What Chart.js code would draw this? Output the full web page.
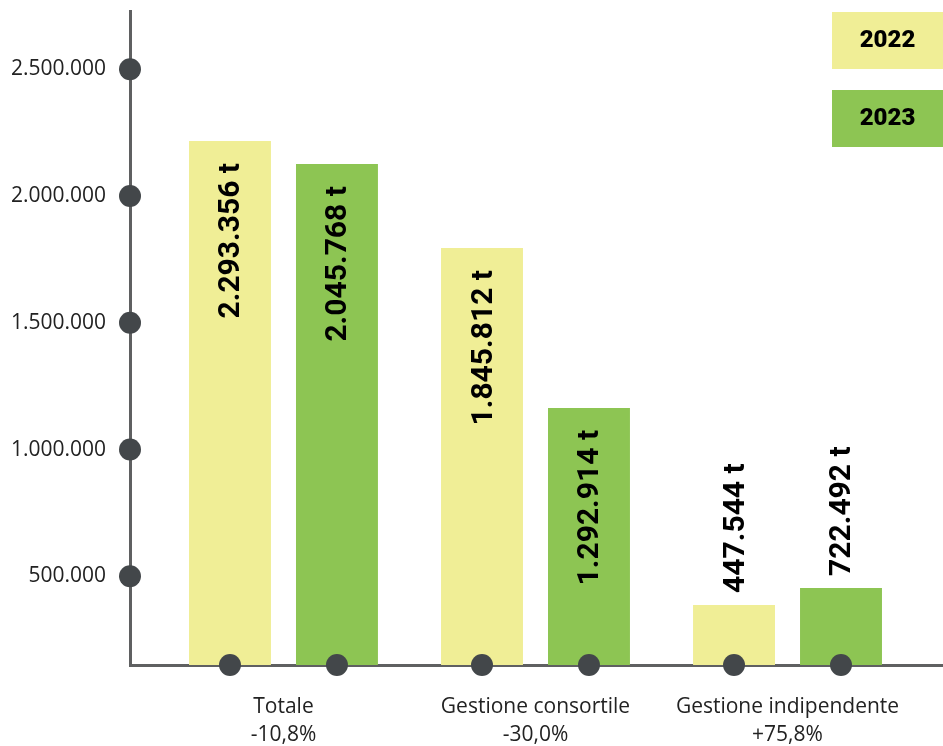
<!DOCTYPE html>
<html>
<head>
<meta charset="utf-8">
<script src="https://cdn.jsdelivr.net/npm/chart.js@4"></script>
<style>
  html, body { margin: 0; padding: 0; background: #fff; }
  #wrap { width: 943px; height: 746px; }
</style>
</head>
<body>
<div id="wrap"><canvas id="chart" width="943" height="746"></canvas></div>
<script>
const categories = ['Totale', 'Gestione consortile', 'Gestione indipendente'];
const changes = ['-10,8%', '-30,0%', '+75,8%'];
const years = ['2022', '2023'];
// bar heights as drawn in the picture
const values2022 = [2217000, 1795000, 387000];
const values2023 = [2126000, 1164000, 454000];
// printed labels
const labels2022 = ['2.293.356 t', '1.845.812 t', '447.544 t'];
const labels2023 = ['2.045.768 t', '1.292.914 t', '722.492 t'];
const yTicks = [500000, 1000000, 1500000, 2000000, 2500000];

const YELLOW = '#f0ee96';
const GREEN = '#8dc553';
const AXIS = '#5f6061';
const DOT = '#43474a';
const TEXT = '#222';

const fmt = v => String(v).replace(/\B(?=(\d{3})+(?!\d))/g, '.');

const dotsPlugin = {
  id: 'dots',
  afterDraw(chart) {
    const { ctx, chartArea, scales } = chart;
    ctx.save();
    ctx.fillStyle = DOT;
    yTicks.forEach(v => {
      ctx.beginPath();
      ctx.arc(chartArea.left, scales.y.getPixelForValue(v), 11, 0, Math.PI * 2);
      ctx.fill();
    });
    chart.data.datasets.forEach((ds, i) => {
      chart.getDatasetMeta(i).data.forEach(bar => {
        ctx.beginPath();
        ctx.arc(bar.x, chartArea.bottom, 11, 0, Math.PI * 2);
        ctx.fill();
      });
    });
    ctx.restore();
  }
};

const barLabelsPlugin = {
  id: 'barLabels',
  afterDatasetsDraw(chart) {
    const { ctx } = chart;
    ctx.save();
    ctx.font = 'bold 30px Roboto, "Liberation Sans", sans-serif';
    ctx.fillStyle = '#000';
    ctx.textBaseline = 'middle';
    chart.data.datasets.forEach((ds, i) => {
      chart.getDatasetMeta(i).data.forEach((bar, j) => {
        const txt = ds.valueLabels[j];
        const tw = ctx.measureText(txt).width;
        const h = bar.base - bar.y;
        ctx.save();
        if (h > tw + 40) {
          ctx.translate(bar.x + 2, bar.y + 22);
          ctx.rotate(-Math.PI / 2);
          ctx.textAlign = 'right';
        } else {
          ctx.translate(bar.x + 2, bar.y - 12);
          ctx.rotate(-Math.PI / 2);
          ctx.textAlign = 'left';
        }
        ctx.fillText(txt, 0, 0);
        ctx.restore();
      });
    });
    ctx.restore();
  }
};

const legendPlugin = {
  id: 'boxLegend',
  afterDraw(chart) {
    const { ctx } = chart;
    ctx.save();
    ctx.font = '900 24px Roboto, "Liberation Sans", sans-serif';
    ctx.textAlign = 'center';
    ctx.textBaseline = 'middle';
    chart.data.datasets.forEach((ds, i) => {
      const top = 12 + i * 78;
      ctx.fillStyle = ds.backgroundColor;
      ctx.fillRect(832, top, 111, 57);
      ctx.fillStyle = '#000';
      ctx.fillText(ds.label, 887.5, top + 29);
    });
    ctx.restore();
  }
};

new Chart(document.getElementById('chart'), {
  type: 'bar',
  data: {
    datasets: [
      { label: years[0], data: values2022.map((v, i) => ({ x: i, y: v })), backgroundColor: YELLOW, valueLabels: labels2022 },
      { label: years[1], data: values2023.map((v, i) => ({ x: i, y: v })), backgroundColor: GREEN, valueLabels: labels2023 },
    ],
  },
  options: {
    responsive: false,
    animation: false,
    layout: { padding: { top: 11, right: 0, bottom: 0, left: 0 } },
    datasets: { bar: { categoryPercentage: 0.849, barPercentage: 0.766 } },
    plugins: { legend: { display: false }, tooltip: { enabled: false } },
    scales: {
      x: {
        type: 'linear',
        min: -0.609,
        max: 2.617,
        offset: false,
        z: 1,
        grid: { display: false, drawTicks: false },
        border: { color: AXIS, width: 3 },
        afterBuildTicks: s => { s.ticks = categories.map((c, i) => ({ value: i })); },
        afterFit: s => { s.height = 81; s.paddingLeft = 0; s.paddingRight = 0; },
        ticks: {
          autoSkip: false,
          maxRotation: 0,
          padding: 28,
          color: TEXT,
          font: { family: '"Open Sans", sans-serif', size: 21, lineHeight: 1.33 },
          callback: v => [categories[v], changes[v]],
        },
      },
      y: {
        min: 150000,
        max: 2730000,
        z: 1,
        grid: { display: false, drawTicks: false },
        border: { color: AXIS, width: 3 },
        afterBuildTicks: s => { s.ticks = yTicks.map(v => ({ value: v })); },
        afterFit: s => { s.width = 130; s.paddingTop = 0; s.paddingBottom = 0; },
        ticks: {
          padding: 24,
          color: TEXT,
          font: { family: '"Open Sans", sans-serif', size: 21 },
          callback: v => fmt(v),
        },
      },
    },
  },
  plugins: [dotsPlugin, barLabelsPlugin, legendPlugin],
});
</script>
</body>
</html>
